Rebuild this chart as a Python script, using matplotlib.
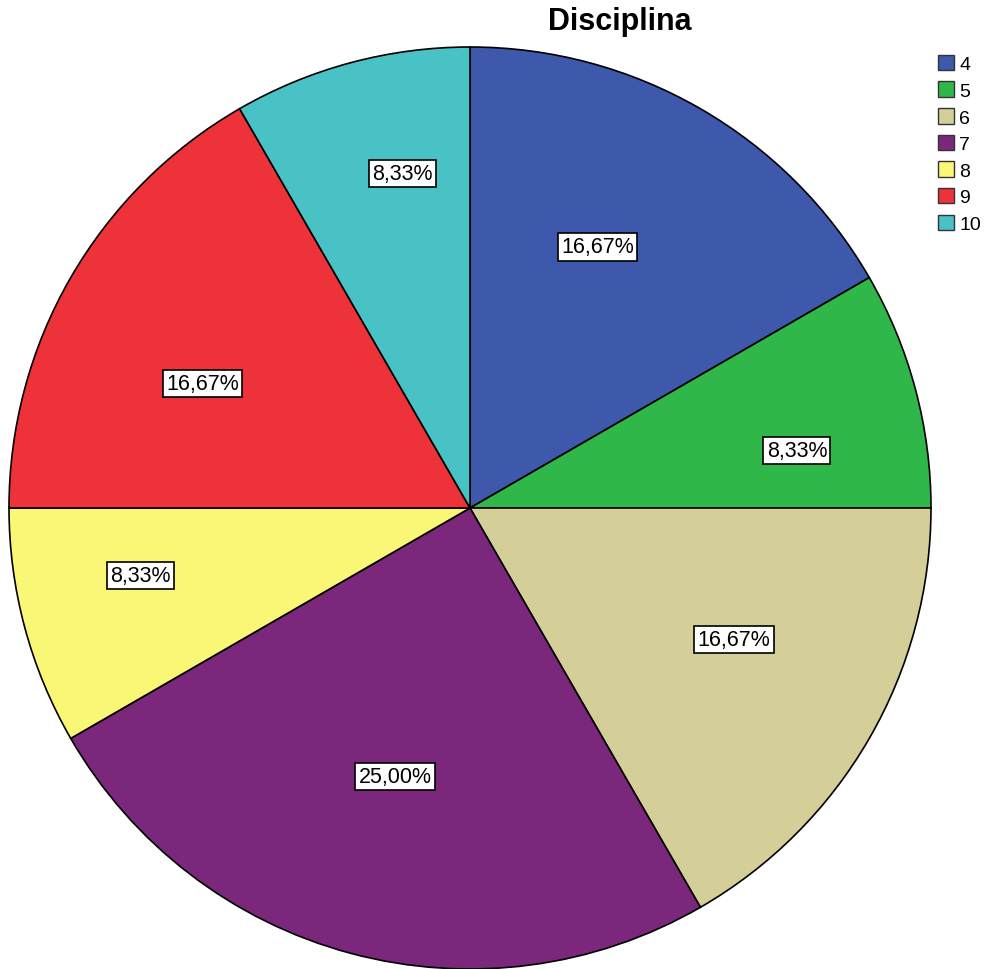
import numpy as np
import matplotlib
matplotlib.use('Agg')
import matplotlib.pyplot as plt
from matplotlib.patches import Patch

plt.rcParams['font.family'] = ['Liberation Sans', 'DejaVu Sans']

categories = ['4', '5', '6', '7', '8', '9', '10']
values = [16.67, 8.33, 16.67, 25.00, 8.33, 16.67, 8.33]
labels = ['16,67%', '8,33%', '16,67%', '25,00%', '8,33%', '16,67%', '8,33%']
colors = ['#3E58AC', '#2FB74A', '#D4CE99', '#7B287C', '#FAF676', '#EE3239', '#49C2C5']

fig = plt.figure(figsize=(9.89, 9.70), dpi=100)
ax = fig.add_axes([9 / 989, 0, 922 / 989, 922 / 970])

wedges, _ = ax.pie(values, colors=colors, startangle=90, counterclock=False,
                   radius=1, wedgeprops=dict(edgecolor='black', linewidth=1.2))
ax.set_xlim(-1, 1)
ax.set_ylim(-1, 1)
ax.set_aspect('equal')
ax.axis('off')

# SPSS doesn't put the labels exactly on the bisector, nudge them a bit
nudge_deg = [4, -5, 3.5, -0.6, -3.4, 5, -3.5]
dist = [0.63, 0.72, 0.64, 0.605, 0.73, 0.64, 0.74]
for w, lab, dd, r in zip(wedges, labels, nudge_deg, dist):
    mid = np.deg2rad((w.theta1 + w.theta2) / 2 + dd)
    ax.text(r * np.cos(mid), r * np.sin(mid), lab, ha='center', va='center',
            fontsize=15.5, bbox=dict(boxstyle='square,pad=0.15', fc='white', ec='black', lw=1.2))

fig.text(620 / 989, 1 - 22 / 970, 'Disciplina', ha='center', va='center',
         fontsize=22, fontweight='bold')

handles = [Patch(facecolor=c, edgecolor='#333333', label=k) for c, k in zip(colors, categories)]
fig.legend(handles=handles, loc='upper left', bbox_to_anchor=(928 / 989, 1 - 46 / 970),
           frameon=False, fontsize=14, handlelength=0.85, handleheight=0.85,
           handletextpad=0.25, labelspacing=0.42, borderpad=0)

fig.savefig('out.png', dpi=100)
